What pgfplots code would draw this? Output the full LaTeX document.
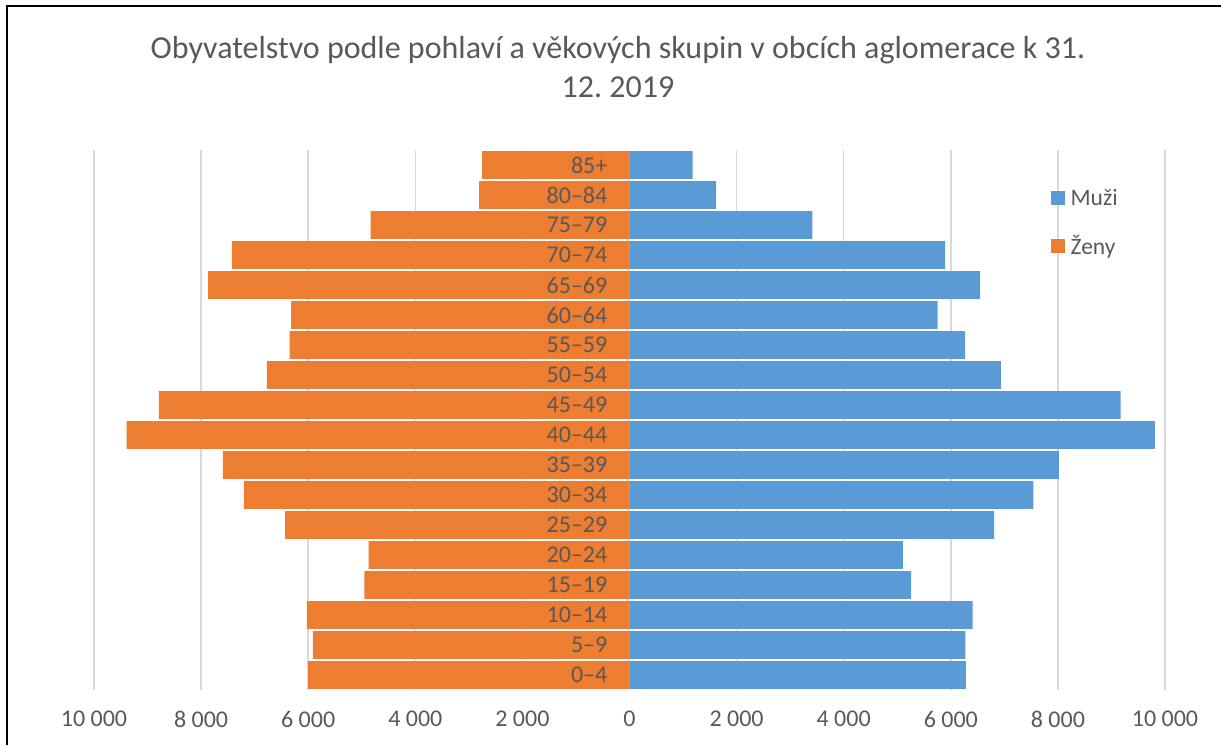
\documentclass[border=0pt]{standalone}
\usepackage{pgfplots}
\pgfplotsset{compat=1.18}
\usepackage{fontspec}
\setmainfont{Carlito}
\frenchspacing
\definecolor{muzi}{HTML}{5B9BD5}
\definecolor{zeny}{HTML}{ED7D31}
\definecolor{txt}{HTML}{595959}
\definecolor{grd}{HTML}{D9D9D9}
\begin{document}
\begin{tikzpicture}[x=1pt,y=1pt]
\path[use as bounding box] (0,0) rectangle (1221,745);
\draw[line width=2pt] (7,0) -- (7,739) -- (1222,739);
\node[text=txt, font=\fontsize{32}{36}\selectfont] at (618,695) {Obyvatelstvo podle pohlaví a věkových skupin v obcích aglomerace k 31.};
\node[text=txt, font=\fontsize{32}{36}\selectfont] at (618,658) {12. 2019};
\begin{axis}[
  at={(94pt,55pt)}, anchor=south west,
  scale only axis, width=1071pt, height=540pt,
  xmin=-10000, xmax=10000, ymin=-0.5, ymax=17.5,
  axis line style={draw=none},
  major tick length=0pt,
  xmajorgrids, grid style={grd, line width=1.5pt},
  xtick={-10000,-8000,-6000,-4000,-2000,0,2000,4000,6000,8000,10000},
  xticklabels={10 000,8 000,6 000,4 000,2 000,0,2 000,4 000,6 000,8 000,10 000},
  ytick=\empty,
  tick label style={text=txt, font=\fontsize{24}{28}\selectfont},
  xticklabel style={anchor=north, inner sep=0pt, yshift=-21pt},
  legend style={at={(rel axis cs:0.893,0.932)}, anchor=north west, draw=none, fill=none,
    font=\fontsize{23.5}{27}\selectfont, text=txt, row sep=25pt, inner sep=0pt,
    nodes={inner sep=2pt}},
  legend cell align=left,
  legend image code/.code={\fill[#1,draw=none] (0pt,-7pt) rectangle (14pt,7pt);},
]
\addplot[xbar, bar width=0.93, bar shift=0pt, fill=muzi, draw=none] coordinates {
(6280,0) (6273,1) (6407,2) (5260,3) (5107,4) (6807,5) (7540,6) (8020,7) (9813,8)
(9173,9) (6933,10) (6267,11) (5753,12) (6547,13) (5893,14) (3413,15) (1620,16) (1180,17)};
\addlegendentry{\hspace{4pt}Muži}
\addplot[xbar, bar width=0.93, bar shift=0pt, fill=zeny, draw=none] coordinates {
(-6000,0) (-5913,1) (-6027,2) (-4953,3) (-4873,4) (-6433,5) (-7200,6) (-7593,7) (-9393,8)
(-8787,9) (-6773,10) (-6347,11) (-6320,12) (-7867,13) (-7427,14) (-4833,15) (-2807,16) (-2753,17)};
\addlegendentry{\hspace{4pt}Ženy}
\addplot[forget plot, draw=none, nodes near coords, point meta=explicit symbolic,
  every node near coord/.append style={anchor=east, inner sep=0pt, xshift=-22pt,
    text=txt, font=\fontsize{24}{28}\selectfont}]
  table[meta=lab] {
x y lab
0 0 0–4
0 1 5–9
0 2 10–14
0 3 15–19
0 4 20–24
0 5 25–29
0 6 30–34
0 7 35–39
0 8 40–44
0 9 45–49
0 10 50–54
0 11 55–59
0 12 60–64
0 13 65–69
0 14 70–74
0 15 75–79
0 16 80–84
0 17 85+
};
\end{axis}
\end{tikzpicture}
\end{document}
